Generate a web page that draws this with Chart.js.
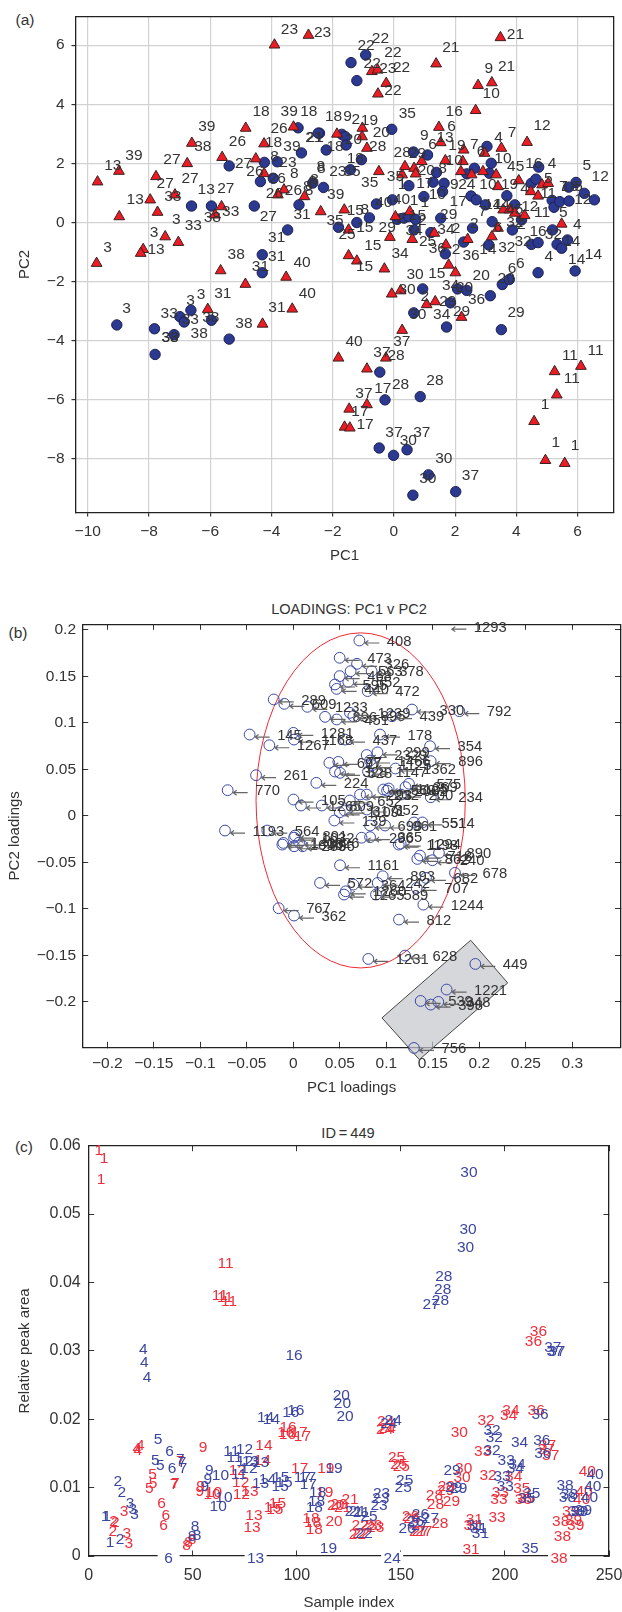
<!DOCTYPE html>
<html>
<head>
<meta charset="utf-8">
<style>
	html, body { margin: 0; background: #fff; font-family: 'Liberation Sans', sans-serif; color: #333; overflow: hidden; height: 1612px; }
	canvas { position: absolute; left: 0; }
	.note { position: absolute; font-size: 15.5px; line-height: 18px; white-space: nowrap; transform: translate(-50%, -50%); }
</style>
<script src="https://cdn.jsdelivr.net/npm/chart.js@4"></script>
</head>
<body>
<div class="note" style="left:25px;top:20px">(a)</div>
<div class="note" style="left:18px;top:633px">(b)</div>
<div class="note" style="left:24px;top:1147px">(c)</div>
<div class="note" style="left:349px;top:609px;font-size:14.6px">LOADINGS: PC1 v PC2</div>
<div class="note" style="left:348px;top:1133px;font-size:14.6px">ID&#8201;=&#8201;449</div>
<canvas id="scores" width="622" height="565" style="top:0"></canvas>
<canvas id="loadings" width="627" height="507" style="top:590px"></canvas>
<canvas id="peaks" width="622" height="492" style="top:1120px"></canvas>
<script>
// panel (a) scores, PC1 / PC2
const scoreXTicks = [-10, -8, -6, -4, -2, 0, 2, 4, 6];
const scoreYTicks = [-8, -6, -4, -2, 0, 2, 4, 6];
const scoreCircles = [
	[-3.13,3.2],[-2.43,3.02],[-3.02,2.35],[-4.23,2.03],[-3.81,2.05],[-5.38,1.91],[-4.36,1.38],[-3.94,1.49],[-2.65,1.33],[-2.3,1.18],
	[-6.61,.55],[-5.96,.55],[-4.56,.55],[-3.1,.59],[-3.47,-.26],[-4.3,-1.1],[-4.3,-1.71],
	[-9.05,-3.48],[-7.82,-3.61],[-7.8,-4.48],[-7.18,-3.81],[-6.99,-3.2],[-6.85,-3.38],[-6.63,-2.98],[-5.96,-3.32],[-5.38,-3.96],
	[-.46,-5.08],[-.29,-6.02],[.86,-5.91],[-.48,-7.65],[-.01,-7.9],[.43,-7.71],[1.13,-8.56],[.62,-9.25],[2.02,-9.13],
	[1.72,-3.55],[3.51,-3.64],[.65,-3.07],[1.85,-2.73],[.94,-2.26],[2.08,-2.26],[2.38,-2.31],[3.15,-2.49],[3.54,-2.11],[3.77,-1.94],
	[-1.42,1.78],[-1.06,2.12],[-1.81,-.17],[-1.21,-.01],[-.8,.15],[-.57,.62],[-.05,.76],[.11,.1],[.33,.14],[.49,.19],[.71,.1],[.66,-.26],
	[.49,1.24],[.98,.87],[1.21,-.35],[1.53,.14],[1.64,1.32],[1.28,1.36],[1.39,1.69],[1.1,2.28],[.64,2.38],[1.59,1.04],[1.68,-1.07],
	[2.28,-.67],[2.57,-.2],[2.38,1.64],[2.63,1.83],[2.52,.89],[2.69,.76],[2.99,.59],[3.21,.02],[3.1,-.77],[3.87,-.26],[3.69,.9],[3.95,.59],[4.17,.08],
	[3.12,1.66],[3.18,2],[3.04,2.57],[4.49,-.75],[4.71,-.69],[4.49,1.32],[4.64,1.46],[4.73,1.87],[5.17,.74],[5.23,.51],[5.42,.7],[5.72,.72],[5.95,1.35],[5.71,1.19],
	[6.22,.98],[6.55,.76],[5.18,-.26],[5.33,-.75],[5.48,-.88],[5.67,-.6],[4.71,-1.71],[5.92,-1.65],
	[-1.4,5.41],[-.92,5.67],[-1.21,4.8],[-.07,3.15],[-2.47,3.02],[-1.7,2.98],[-1.59,2.9],[-1.56,2.62],[-2.21,2.45]
];
const scoreTriangles = [
	[-3.9,6.01],[-2.79,6.34],[-4.84,3.19],[-3.28,3.23],[-4.24,2.66],[-6.6,2.68],[-5.61,2.2],[-4.51,2.15],[-6.75,1.99],[-4.24,1.65],[-8.98,1.73],[-9.68,1.37],[-7.77,1.55],
	[-3.59,1.1],[-3.79,.93],[-2.92,.87],[-7.96,.76],[-7.15,.93],[-7.72,.34],[-8.97,.19],[-5.63,.53],[-5.84,.25],[-2.39,.36],[-7.47,-.49],[-7.04,-.68],[-8.19,-.92],[-8.27,-1.05],[-9.71,-1.39],
	[-5.66,-1.64],[-3.52,-1.86],[-4.85,-2.1],[-6.08,-2.95],[-4.29,-3.45],[-3.32,-2.94],
	[.27,-3.66],[-1.81,-4.6],[-.26,-4.6],[-.88,-4.97],[-.88,-6.18],[-1.46,-6.33],[-1.61,-6.94],[-1.44,-6.97],[2.21,-3.22],[1.07,-2.79],[1.35,-2.69],[-.07,-2.43],[.22,-2.32],
	[6.11,-4.88],[5.25,-5.06],[5.32,-5.85],[4.58,-6.75],[4.95,-8.07],[5.58,-8.17],
	[-1.62,.42],[-1.48,-.26],[-1.48,-1.13],[-1.21,-1.31],[-.31,-1.58],[-.13,-.51],[.6,-.58],[.05,.19],[.52,.36],[-.49,1.72],[.27,1.61],[.36,1.89],[.66,1.83],[.71,1.64],[.91,2.06],[1.68,2.09],
	[1.7,-.77],[1.32,-.37],[1.79,-1.45],[2.01,-1.71],[2.41,-.58],[3.2,-.49],[3.4,-.2],[2.28,2.45],[2.25,2.06],[2.19,1.72],[2.54,1.61],[2.91,1.72],[3.34,1.61],[3.4,1.21],[3.57,.42],[3.78,.42],[3.95,.31],[4.27,.23],
	[4.08,1.41],[4.47,1.04],[4.71,.89],[4.84,1.27],[5.04,1.32],[5.48,-.06],
	[3.48,6.26],[1.38,5.37],[3.2,4.73],[2.75,4.64],[2.67,3.79],[-.72,5.11],[-.53,5.16],[-.25,4.71],[-.52,4.35],[1.47,3.22],[1.53,2.7],[3.51,2.51],[4.35,2.71],[-1.03,3.19],[-1.86,2.99],[-1.04,2.9],[-.88,2.51],[2.96,2.34]
];
const scoreLabels = [
	[-3.41,6.52,'23'],[-4.34,3.75,'18'],[-3.42,3.75,'39'],[-2.78,3.75,'18'],[-6.11,3.24,'39'],[-3.75,3.16,'26'],[-5.11,2.72,'26'],[-6.24,2.56,'38'],[-3.93,2.7,'18'],[-3.33,2.56,'39'],[-2.57,2.88,'21'],
	[-8.49,2.26,'39'],[-7.25,2.11,'27'],[-9.18,1.92,'13'],[-4.91,2,'27'],[-3.9,2.23,'8'],[-3.46,2.02,'23'],[-2.37,1.83,'8'],[-4.54,1.72,'26'],[-3.81,1.49,'26'],[-3.25,1.66,'8'],[-2.59,1.43,'8'],
	[-7.47,1.32,'27'],[-6.66,1.47,'27'],[-7.22,.87,'33'],[-8.45,.76,'13'],[-6.13,1.1,'13'],[-5.49,1.12,'27'],[-3.9,.96,'26'],[-3.28,1.07,'26'],[-2.77,1.07,'8'],[-5.33,.36,'33'],[-5.93,.14,'38'],[-6.55,-.11,'33'],
	[-4.1,.19,'27'],[-3,.25,'31'],[-7.11,.08,'3'],[-7.83,-.37,'3'],[-3.83,-.54,'31'],[-7.77,-.94,'13'],[-9.35,-.86,'3'],[-5.15,-1.11,'38'],[-3.83,-1.16,'31'],[-4.36,-1.5,'31'],[-3,-1.36,'40'],
	[-8.73,-2.93,'3'],[-7.34,-3.11,'33'],[-6.64,-2.66,'3'],[-6.3,-2.46,'3'],[-5.59,-2.41,'31'],[-6.65,-3.29,'33'],[-5.98,-3.25,'38'],[-4.9,-3.43,'38'],[-6.36,-3.79,'38'],[-7.31,-3.91,'33'],[-7.31,-3.91,'38'],[-3.82,-2.89,'31'],[-2.83,-2.41,'40'],
	[-1.3,-4.05,'40'],[.26,-4.05,'37'],[-.39,-4.41,'37'],[.07,-4.54,'28'],[1.34,-5.36,'28'],[.22,-5.5,'28'],[-.36,-5.64,'17'],[-.98,-5.81,'37'],[-1.11,-6.43,'17'],[-.94,-6.85,'17'],[0,-7.12,'37'],[.91,-7.14,'37'],[.47,-7.39,'30'],[1.63,-8.01,'30'],[1.11,-8.7,'30'],[2.5,-8.58,'37'],
	[6.59,-4.34,'11'],[5.75,-4.51,'11'],[5.81,-5.29,'11'],[4.94,-6.2,'1'],[5.29,-7.48,'1'],[5.92,-7.59,'1'],[3.99,-3.08,'29'],[2.21,-3.02,'29'],[1.56,-3.15,'34'],[.78,-3.13,'30'],[2.7,-2.64,'36'],[1.76,-2.68,'29'],[1.01,-2.51,'2'],[.43,-2.28,'30'],[1.85,-2.15,'34'],[2.31,-2.23,'20'],
	[-2.33,6.44,'23'],[-.44,6.23,'22'],[-.91,5.99,'22'],[-.03,5.73,'22'],[1.86,5.92,'21'],[3.97,6.35,'21'],[3.1,5.22,'9'],[3.68,5.28,'21'],[-.71,5.37,'22'],[-.2,5.2,'23'],[.25,5.24,'22'],[3.18,4.34,'10'],[-.03,4.46,'22'],
	[1.97,3.75,'16'],[.44,3.67,'35'],[-1.97,3.58,'18'],[-1.51,3.56,'9'],[-1.24,3.47,'2'],[-.8,3.45,'19'],[1.88,3.24,'6'],[4.84,3.28,'12'],[3.86,3.05,'7'],[3.42,2.88,'4'],[-.41,3.02,'20'],[.99,2.94,'9'],[1.67,2.85,'13'],[1.26,2.62,'6'],[2.06,2.6,'19'],[2.63,2.62,'7'],[2.85,2.4,'6'],
	[-2.61,2.85,'21'],[-1.32,2.79,'20'],[-1.92,2.56,'18'],[-.53,2.56,'28'],[.27,2.37,'28'],[.77,2.32,'29'],[3.56,2.17,'10'],[1.97,2.09,'10'],[-1.26,2.15,'18'],[5.17,2,'4'],[6.3,1.92,'5'],[4.57,2,'16'],[3.98,1.89,'45'],[6.74,1.55,'12'],
	[-2.39,1.87,'8'],[-1.83,1.72,'23'],[-1.37,1.72,'35'],[-.79,1.35,'35'],[.05,1.55,'35'],[-1.9,.95,'39'],[-2.65,1.38,'8'],[-2.83,1.19,'8'],[1.06,1.75,'20'],[1.59,1.83,'8'],[.27,1.27,'1'],[1.01,1.32,'17'],[1.97,1.27,'9'],[2.38,1.27,'24'],[1.42,.95,'10'],[3.07,1.27,'10'],[3.78,1.27,'19'],[4.27,1.15,'4'],[5.04,1.49,'5'],[5.04,.98,'11'],[5.53,1.21,'7'],[5.75,1.21,'18'],[6.03,1.21,'5'],[6.17,.76,'12'],
	[2.1,.7,'17'],[-.33,.67,'40'],[.25,.76,'40'],[.66,.72,'1'],[1.01,.67,'1'],[2.9,.36,'7'],[3.23,.59,'14'],[3.51,.59,'14'],[3.95,.42,'45'],[4.44,.51,'12'],[4.84,.31,'11'],[5.53,.31,'5'],[5.99,-.09,'4'],[-1.26,.4,'15'],[-.95,.42,'8'],[.77,.23,'15'],[1.79,.25,'29'],[.93,.06,'2'],[.22,.11,'2'],[-1.92,.06,'35'],
	[-1.53,-.43,'25'],[-.95,-.2,'15'],[-.22,-.2,'29'],[.66,-.29,'34'],[1.7,-.26,'34'],[2.03,-.23,'2'],[2.63,-.06,'2'],[4.16,-.09,'2'],[3.95,-.03,'32'],[3.4,-.17,'6'],[4.22,-.66,'32'],[4.71,-.32,'16'],[5.21,-.43,'32'],[3.69,-.86,'32'],[3.07,-.94,'14'],[5.81,-.66,'14'],[1.1,-.66,'25'],[1.42,-.88,'36'],[2.03,-.94,'2'],[2.52,-1.13,'36'],
	[-.69,-.8,'15'],[.2,-1.07,'34'],[5.06,-1.17,'4'],[5.97,-1.26,'14'],[6.52,-1.11,'14'],[4.13,-1.39,'6'],[3.86,-1.56,'6'],[-.96,-1.5,'15'],[.69,-1.79,'30'],[1.4,-1.73,'15'],[2.85,-1.82,'20'],[3.67,-1.93,'20']
];

// panel (b) loadings, PC1 / PC2
const loadingXTicks = [-0.2, -0.15, -0.1, -0.05, 0, 0.05, 0.1, 0.15, 0.2, 0.25, 0.3];
const loadingYTicks = [-0.2, -0.15, -0.1, -0.05, 0, 0.05, 0.1, 0.15, 0.2];
const loadingPoints = [
	[.071,.1886,'408'],[.0498,.17,'473'],[.0685,.1635,'326'],[.0616,.1556,'563'],[.0842,.1556,'378'],[.0498,.1503,'468'],[.0591,.1442,'552'],[.0448,.1413,'595'],[.0466,.1366,'440'],[.0799,.1342,'472'],
	[-.0211,.1252,'289'],[-.0097,.1205,'609'],[.0151,.1173,'1233'],[.0341,.1065,'896'],[.0466,.1037,'451'],[.0609,.1108,'1239'],[.0645,.1072,'895'],[.1061,.1072,'439'],[.1276,.1144,'330'],[.1785,.1126,'792'],
	[.0932,.0875,'178'],[-.047,.0875,'145'],[0,.0893,'1281'],[.0007,.0821,'1168'],[.0556,.0821,'437'],[-.0258,.076,'1267'],[.147,.075,'354'],[.0789,.0655,'2329'],[.0905,.0684,'299'],
	[.0387,.0571,'697'],[.0484,.0581,'77'],[.0448,.0477,'328'],[.0502,.0463,'528'],[.0825,.0596,'1466'],[.0847,.0546,'1125'],[.0803,.0477,'1147'],[.1098,.051,'1362'],[.1477,.0589,'896'],[-.0401,.0438,'261'],[.0247,.0356,'224'],
	[.1008,.0273,'2002'],[.1025,.0295,'1125'],[.1243,.0346,'575'],[.1206,.031,'369'],[-.0706,.0277,'770'],[.1478,.0201,'234'],[.1158,.023,'200'],[.0968,.0284,'569'],[.0717,.023,'293'],[.0789,.023,'232'],
	[.0001,.0176,'105'],[.0082,.0112,'1265'],[.0306,.0112,'809'],[.0607,.0166,'652'],[.0552,.0058,'3171'],[.0499,.0039,'1109'],[.0789,.0069,'352'],[.0441,-.0049,'139'],[.0825,-.0103,'699'],[.0986,-.0103,'961'],[.1298,-.007,'551'],[.1388,-.007,'514'],
	[-.0735,-.0157,'1193'],[-.028,-.0157,'564'],[.0018,-.0211,'891'],[.0734,-.0234,'296'],[.0825,-.0228,'365'],[.1133,-.0308,'1198'],[.1566,-.0398,'890'],[.1154,-.0297,'1294'],[.1362,-.0426,'718'],[.1333,-.0462,'862'],[.1495,-.0476,'240'],
	[-.0118,-.0308,'1696'],[-.0108,-.029,'1438'],[.0008,-.0233,'1632'],[.0062,-.0286,'1326'],[.01,-.0326,'796'],[.0008,-.0326,'283'],
	[.0502,-.053,'1161'],[.0287,-.072,'572'],[.0645,-.0738,'364'],[.0907,-.072,'242'],[.0961,-.0648,'893'],[.1426,-.0666,'682'],[.1738,-.0612,'678'],[.1326,-.0774,'707'],[.0563,-.081,'1260'],[.0545,-.0845,'1265'],[.0889,-.0845,'589'],
	[.1398,-.0953,'1244'],[.1136,-.1114,'812'],[-.0158,-.0992,'767'],[.0007,-.1071,'362'],[.0806,-.1537,'1231'],[.1201,-.1501,'628'],[.1957,-.1591,'449'],[.1648,-.1866,'1221'],[.1369,-.1989,'539'],[.1477,-.2028,'398'],[.1559,-.1999,'348'],[.1297,-.2494,'756']
];
const loadingsOffTop = [[.1645,.2035,'1293']];
const confidenceCenter = [0.0724, 0.0167];
const confidenceRadii = [0.1125, 0.1801];
const selectionCorners = [[.1907,-.1336],[.2305,-.1795],[.1355,-.2619],[.0953,-.2171]];

// panel (c) peak 449 per sample
const sampleTicks = [0, 50, 100, 150, 200, 250];
const areaTicks = [0, 0.01, 0.02, 0.03, 0.04, 0.05, 0.06];
const peakRed = [
	[4.8,.0593,'1'],[7.4,.0581,'1'],[5.9,.055,'1'],[65.8,.0427,'11'],[63,.038,'11'],[65.5,.0378,'11'],[67.4,.0372,'11'],[24.8,.0161,'4'],[23.1,.0157,'4'],[23.6,.0154,'4'],[55,.0159,'9'],
	[30.7,.0119,'5'],[30.9,.0106,'5'],[29.1,.0098,'5'],[44,.0138,'7'],[41.6,.0106,'7'],[41,.0104,'7'],[35,.0076,'6'],[37.1,.0059,'6'],[36,.0044,'6'],[11.9,.005,'2'],[12.8,.0048,'2'],[11.6,.0036,'2'],[17,.0065,'3'],[18.3,.0033,'3'],[19.3,.0018,'3'],
	[47,.0015,'8'],[48,.002,'8'],[49.7,.0024,'8'],[53.7,.0101,'9'],[53.4,.0094,'9'],[60,.0093,'10'],[59.3,.0089,'10'],[71.4,.0125,'12'],[73,.0107,'12'],[73.3,.0089,'12'],[77.5,.0094,'13'],[79.4,.0059,'13'],[78.5,.0041,'13'],[84.2,.0161,'14'],[83.4,.014,'14'],
	[90.7,.0077,'15'],[88.3,.0071,'15'],[89.4,.0068,'15'],[95.8,.0187,'16'],[94.7,.018,'16'],[95.5,.0178,'16'],[101.1,.018,'17'],[102.7,.0174,'17'],[101.4,.0128,'17'],[106.8,.0055,'18'],[107.6,.0049,'18'],[108.4,.0039,'18'],
	[113.9,.0128,'19'],[113.4,.0093,'19'],[117.9,.005,'20'],[118.7,.0073,'20'],[120.3,.0075,'20'],[125.6,.0082,'21'],[122,.007,'21'],[130.4,.0045,'22'],[129.1,.0031,'22'],[130.8,.0033,'22'],[137,.0045,'23'],[137.9,.0042,'23'],[134.7,.0045,'23'],
	[142.7,.0197,'24'],[142.2,.0185,'24'],[143.5,.0186,'24'],[147.9,.0144,'25'],[149,.0133,'25'],[150.2,.0131,'25'],[154.6,.0058,'26'],[155.4,.0055,'26'],[159.4,.0036,'27'],[161,.0036,'27'],[158,.0036,'27'],[168.7,.0047,'28'],[166.1,.0088,'28'],[166.6,.0075,'28'],
	[171.9,.0101,'29'],[174.3,.008,'29'],[171.5,.0096,'29'],[178.1,.018,'30'],[180.2,.0128,'30'],[179.4,.0115,'30'],[185.3,.0053,'31'],[184.2,.0045,'31'],[183.7,.0009,'31'],[190.9,.0198,'32'],[191.9,.0118,'32'],[189.3,.0153,'33'],[197.8,.0093,'33'],[197.1,.0082,'33'],[196.2,.0056,'33'],
	[202.9,.0212,'34'],[201.8,.0205,'34'],[204.2,.0116,'34'],[208.1,.0099,'35'],[208.9,.0083,'35'],[210,.0084,'35'],[216.1,.0328,'36'],[213.7,.0314,'36'],[215,.0213,'36'],[220.4,.0162,'37'],[219.8,.0156,'37'],[222,.0147,'37'],[226.8,.005,'38'],[227.6,.0028,'38'],[226,-.0004,'38'],
	[231.6,.0065,'39'],[234,.0044,'39'],[233,.0052,'39'],[239.6,.0123,'40'],[238,.0094,'40'],[236.9,.0083,'40']
];
const peakBlue = [
	[8,.0058,'1'],[8.7,.0058,'1'],[10.3,.0019,'1'],[14,.0109,'2'],[15.9,.0093,'2'],[15.1,.0024,'2'],[19.9,.0076,'3'],[21.2,.0067,'3'],[22,.0061,'3'],[26.2,.0301,'4'],[26.7,.0283,'4'],[28,.026,'4'],[33.3,.017,'5'],[32,.014,'5'],[34.4,.0132,'5'],
	[38.9,.0152,'6'],[40,.0127,'6'],[38.4,-.0004,'6'],[44,.0141,'7'],[45.3,.0128,'7'],[44.8,.0136,'7'],[51.1,.0043,'8'],[52.1,.0029,'8'],[49.7,.0028,'8'],[58,.0125,'9'],[57.2,.0112,'9'],[55.8,.0102,'9'],[63.3,.0117,'10'],[65,.0085,'10'],[62.2,.0072,'10'],
	[68.5,.0153,'11'],[70.1,.0143,'11'],[72.2,.0119,'11'],[74.9,.0155,'12'],[77,.0128,'12'],[75,.0138,'12'],[77.8,.0138,'13'],[82.6,.0136,'13'],[82.6,.0106,'13'],[80.2,-.0004,'13'],[85,.0202,'14'],[87.8,.0199,'14'],[85.9,.0111,'14'],
	[92.3,.0114,'15'],[93.9,.0107,'15'],[92,.0101,'15'],[98.7,.0293,'16'],[97.1,.0209,'16'],[99.5,.0212,'16'],[102.7,.0114,'17'],[105.1,.0114,'17'],[105.5,.0104,'17'],[110,.0092,'18'],[109.5,.008,'18'],[108.4,.0071,'18'],
	[117.9,.0127,'19'],[115.2,.0011,'19'],[121.4,.0234,'20'],[121.9,.0222,'20'],[123.2,.0204,'20'],[127.2,.0065,'21'],[129.1,.0065,'21'],[131,.0064,'21'],[132.3,.0033,'22'],[140.7,.0091,'23'],[140.3,.0084,'23'],[139.5,.0073,'23'],[146.3,.0198,'24'],[144.2,.0193,'24'],[145.8,-.0004,'24'],
	[151.8,.011,'25'],[151.1,.01,'25'],[134.7,.0058,'25'],[159.4,.006,'26'],[153,.004,'26'],[157,.005,'26'],[164.2,.0054,'27'],[164.5,.0368,'27'],[159,.0045,'27'],[170.6,.0409,'28'],[170.1,.0389,'28'],[169,.0374,'28'],[174.6,.0125,'29'],[177.8,.0098,'29'],[175.4,.01,'29'],
	[182.7,.0561,'30'],[182.3,.0477,'30'],[181.1,.0451,'30'],[185.8,.0045,'31'],[188.2,.0033,'31'],[187.4,.004,'31'],[193.8,.0183,'32'],[194.9,.0173,'32'],[193.8,.0154,'32'],[200.6,.014,'33'],[198.6,.0116,'33'],[200.2,.0102,'33'],[207,.0165,'34'],[205.8,.0133,'34'],[205,.0128,'34'],
	[212.1,.001,'35'],[212.9,.0091,'35'],[210.5,.0084,'35'],[217.7,.0169,'36'],[216.9,.0206,'36'],[218.2,.015,'36'],[223,.0305,'37'],[224.1,.0299,'37'],[224.9,.0299,'37'],[228.9,.0103,'38'],[231,.0089,'38'],[230,.0085,'38'],[234.5,.0065,'39'],[237.7,.0066,'39'],[236,.0065,'39'],[243.3,.0119,'40'],[242.2,.0101,'40'],[240.6,.0085,'40']
];

const ink = '#333';
const blue = '#2b3990';
const red = '#ed1c24';

Chart.defaults.font.family = "'Liberation Sans', sans-serif";
Chart.defaults.font.size = 15.5;
Chart.defaults.color = ink;

const points = (rows) => rows.map(([x, y]) => ({ x, y }));
const texts = (rows) => rows.map((row) => row[2]);
const tickText = (value) => String(value).replace('-', '\u2212');

// text beside marks, the ellipse and the grey box, all placed through the scales
const markPlugin = {
	id: 'markPlugin',
	beforeDatasetsDraw(chart) {
		const { ctx, scales } = chart;
		if (chart.canvas.id !== 'loadings') return;
		const { x, y } = scales;
		ctx.save();
		ctx.beginPath();
		selectionCorners.forEach(([cornerX, cornerY], i) => {
			if (i === 0) ctx.moveTo(x.getPixelForValue(cornerX), y.getPixelForValue(cornerY));
			else ctx.lineTo(x.getPixelForValue(cornerX), y.getPixelForValue(cornerY));
		});
		ctx.closePath();
		ctx.fillStyle = 'rgba(196,198,202,0.7)';
		ctx.fill();
		ctx.strokeStyle = '#444';
		ctx.lineWidth = 1;
		ctx.stroke();
		const cx = x.getPixelForValue(confidenceCenter[0]);
		const cy = y.getPixelForValue(confidenceCenter[1]);
		const rx = Math.abs(x.getPixelForValue(confidenceCenter[0] + confidenceRadii[0]) - cx);
		const ry = Math.abs(y.getPixelForValue(confidenceCenter[1] + confidenceRadii[1]) - cy);
		ctx.beginPath();
		ctx.ellipse(cx, cy, rx, ry, 0, 0, Math.PI * 2);
		ctx.strokeStyle = '#ee2a35';
		ctx.lineWidth = 1;
		ctx.stroke();
		ctx.restore();
	},
	afterDatasetsDraw(chart) {
		const { ctx } = chart;
		ctx.save();
		chart.data.datasets.forEach((dataset, index) => {
			if (!dataset.texts) return;
			const elements = chart.getDatasetMeta(index).data;
			ctx.font = `${dataset.textSize}px 'Liberation Sans', sans-serif`;
			ctx.textBaseline = 'middle';
			elements.forEach((element, i) => {
				const px = element.x;
				const py = element.y;
				if (dataset.arrows) {
					ctx.strokeStyle = '#666';
					ctx.lineWidth = 1.2;
					ctx.beginPath();
					ctx.moveTo(px + 20, py + 2.5);
					ctx.lineTo(px + 5.5, py + 2.5);
					ctx.moveTo(px + 9, py);
					ctx.lineTo(px + 5.5, py + 2.5);
					ctx.lineTo(px + 9, py + 5);
					ctx.stroke();
					ctx.textAlign = 'left';
					ctx.fillStyle = ink;
					ctx.fillText(dataset.texts[i], px + 27.5, py + 1);
				} else {
					ctx.textAlign = 'center';
					if (dataset.clearBelow && dataset.data[i].y < 0) {
						ctx.fillStyle = '#fff';
						ctx.fillRect(px - 11, py - 7, 22, 14);
					}
					ctx.fillStyle = dataset.textColor;
					ctx.fillText(dataset.texts[i], px, py);
				}
			});
		});
		ctx.restore();
	},
};

function axis({ position, min, max, ticks, size, padding, tickLength, title, grid, fontSize }) {
	const options = {
		type: 'linear',
		position,
		min,
		max,
		afterBuildTicks(scale) {
			scale.ticks = ticks.map((value) => ({ value }));
		},
		afterFit(scale) {
			if (scale.isHorizontal()) scale.height = size;
			else scale.width = size;
			scale.paddingLeft = scale.paddingRight = scale.paddingTop = scale.paddingBottom = 0;
		},
		border: { display: true, color: '#222', width: 1.3 },
		grid: {
			display: true,
			drawTicks: true,
			drawOnChartArea: !!grid,
			color: grid || '#333',
			lineWidth: grid ? 1.2 : 1,
			tickColor: '#333',
			tickLength,
		},
		ticks: {
			display: padding !== undefined,
			autoSkip: false,
			maxRotation: 0,
			padding: padding || 0,
			color: ink,
			font: { size: fontSize || 15.5 },
			callback: tickText,
		},
	};
	if (title) {
		options.title = { display: true, text: title.text, color: ink, font: { size: 15 }, padding: title.padding };
	}
	return options;
}

const quiet = {
	responsive: false,
	animation: false,
	events: [],
	plugins: { legend: { display: false }, tooltip: { enabled: false }, title: { display: false } },
};

new Chart(document.getElementById('scores'), {
	type: 'scatter',
	plugins: [markPlugin],
	data: {
		datasets: [
			{ data: points(scoreLabels), pointRadius: 0, texts: texts(scoreLabels), textColor: ink, textSize: 15.5, clip: false },
			{ data: points(scoreTriangles), pointStyle: 'triangle', pointRadius: 6.2, backgroundColor: red, borderColor: '#3a2020', borderWidth: 1, clip: false },
			{ data: points(scoreCircles), pointRadius: 5.2, backgroundColor: blue, borderColor: '#1c2050', borderWidth: 1, clip: false },
		],
	},
	options: {
		...quiet,
		layout: { padding: { top: 16.3, right: 8.3, left: 0, bottom: 0 } },
		scales: {
			x: axis({ position: 'bottom', min: -10.4, max: 7.18, ticks: scoreXTicks, size: 52.4, padding: 5.7, tickLength: 4, grid: '#d2d2d2', title: { text: 'PC1', padding: { bottom: 0 } } }),
			y: axis({ position: 'left', min: -9.84, max: 6.98, ticks: scoreYTicks, size: 75.5, padding: 7, tickLength: 4, grid: '#d2d2d2', title: { text: 'PC2', padding: { top: 16 } } }),
			x2: axis({ position: 'top', min: -10.4, max: 7.18, ticks: [], size: 0, tickLength: 0 }),
			y2: axis({ position: 'right', min: -9.84, max: 6.98, ticks: [], size: 0, tickLength: 0 }),
		},
	},
});

new Chart(document.getElementById('loadings'), {
	type: 'scatter',
	plugins: [markPlugin],
	data: {
		datasets: [
			{ data: points(loadingPoints), pointRadius: 5.4, backgroundColor: 'transparent', borderColor: '#3a47a5', borderWidth: 1, clip: false, texts: texts(loadingPoints), arrows: true, textSize: 14.8 },
			{ data: points(loadingsOffTop), pointRadius: 0, clip: false, texts: texts(loadingsOffTop), arrows: true, textSize: 14.8 },
		],
	},
	options: {
		...quiet,
		layout: { padding: { top: 34.3, right: 6.5, left: 0, bottom: 0 } },
		scales: {
			x: axis({ position: 'bottom', min: -0.2265, max: 0.3518, ticks: loadingXTicks, size: 49.7, padding: 12.2, tickLength: -5.5, title: { text: 'PC1 loadings', padding: { bottom: 0 } } }),
			y: axis({ position: 'left', min: -0.2487, max: 0.206, ticks: loadingYTicks, size: 82.7, padding: 12.2, tickLength: -5.5, title: { text: 'PC2 loadings', padding: { top: 6 } } }),
			x2: axis({ position: 'top', min: -0.2265, max: 0.3518, ticks: loadingXTicks, size: 0, tickLength: -5.5 }),
			y2: axis({ position: 'right', min: -0.2487, max: 0.206, ticks: loadingYTicks, size: 0, tickLength: -5.5 }),
		},
	},
});

new Chart(document.getElementById('peaks'), {
	type: 'scatter',
	plugins: [markPlugin],
	data: {
		datasets: [
			{ data: points(peakRed), pointRadius: 0, clip: false, texts: texts(peakRed), textColor: '#ee2f3c', textSize: 15.5, clearBelow: true },
			{ data: points(peakBlue), pointRadius: 0, clip: false, texts: texts(peakBlue), textColor: '#3c479f', textSize: 15.5, clearBelow: true },
		],
	},
	options: {
		...quiet,
		layout: { padding: { top: 25.7, right: 13, left: 0, bottom: 0 } },
		scales: {
			x: axis({ position: 'bottom', min: 0, max: 250, ticks: sampleTicks, size: 56, padding: 15, tickLength: -5.5, fontSize: 16, title: { text: 'Sample index', padding: { bottom: 0 } } }),
			y: axis({ position: 'left', min: 0, max: 0.06, ticks: areaTicks, size: 88.7, padding: 13.5, tickLength: -5.5, fontSize: 16, title: { text: 'Relative peak area', padding: { top: 16 } } }),
			x2: axis({ position: 'top', min: 0, max: 250, ticks: sampleTicks, size: 0, tickLength: -5.5 }),
			y2: axis({ position: 'right', min: 0, max: 0.06, ticks: areaTicks, size: 0, tickLength: -5.5 }),
		},
	},
});
</script>
</body>
</html>
